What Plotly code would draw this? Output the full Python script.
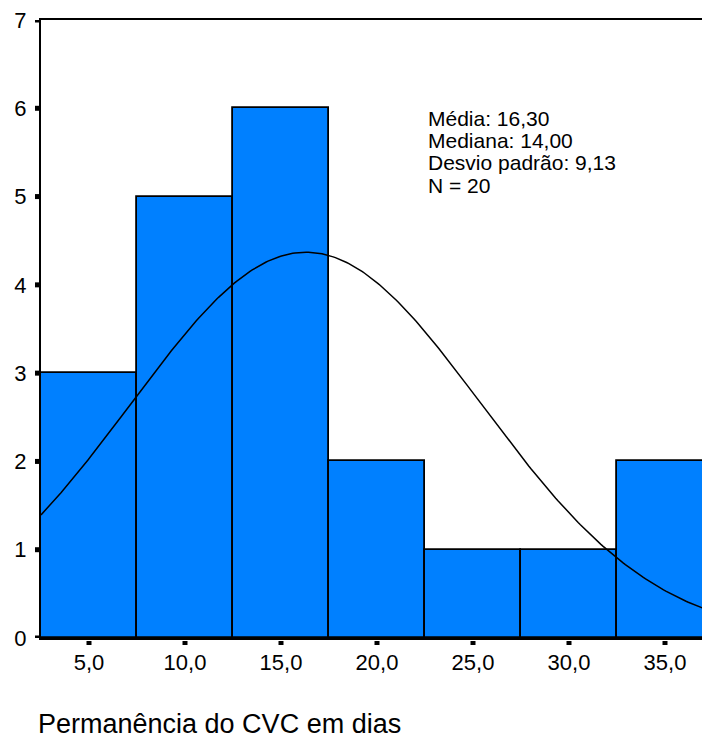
import numpy as np
import plotly.graph_objects as go

# Data
bin_centers = [5, 10, 15, 20, 25, 30, 35]
counts = [3, 5, 6, 2, 1, 1, 2]
bin_width = 5
x_tick_vals = [5, 10, 15, 20, 25, 30, 35]
x_tick_text = ["5,0", "10,0", "15,0", "20,0", "25,0", "30,0", "35,0"]
y_tick_vals = [0, 1, 2, 3, 4, 5, 6, 7]

# Summary statistics shown on the chart
mean_val = 16.30
median_val = 14.00
sd_val = 9.13
n_val = 20

stats_lines = [
    "Média: 16,30",
    "Mediana: 14,00",
    "Desvio padrão: 9,13",
    "N = 20",
]
x_title = "Permanência do CVC em dias"

# Fitted normal curve (as drawn by the original software)
curve_x = np.linspace(2.5, 37.5, 300)
curve_y = n_val * bin_width / (sd_val * np.sqrt(2 * np.pi)) * np.exp(-0.5 * ((curve_x - mean_val) / sd_val) ** 2)

FONT = "Liberation Sans, Arial, sans-serif"
W, H = 702, 740
ML, MR, MT, MB = 41, 0, 20, 102
PW, PH = W - ML - MR, H - MT - MB
X_MIN = 2.5


def px_to_paper_y(ypix):
    return (H - MB - ypix) / PH


def px_to_paper_x(xpix):
    return (xpix - ML) / PW


fig = go.Figure()
fig.add_trace(go.Bar(
    x=bin_centers, y=counts, width=[bin_width] * len(bin_centers),
    marker=dict(color="#0080FF", line=dict(color="black", width=1.8)),
    showlegend=False, hoverinfo="skip",
))
fig.add_trace(go.Scatter(
    x=curve_x, y=curve_y, mode="lines",
    line=dict(color="black", width=1.5),
    showlegend=False, hoverinfo="skip",
))

# Small square tick marks (SPSS style), placed at the tick values
shapes = []
for tv in x_tick_vals:
    shapes.append(dict(
        type="rect", xref="x", xsizemode="pixel", xanchor=tv, x0=-2.5, x1=2.5,
        yref="paper", y0=-3 / PH, y1=-7 / PH,
        fillcolor="black", line=dict(width=0), layer="above",
    ))
for tv in y_tick_vals:
    shapes.append(dict(
        type="rect", xref="paper", x0=-6 / PW, x1=-1.5 / PW,
        yref="y", ysizemode="pixel", yanchor=tv, y0=-2.5, y1=2.5,
        fillcolor="black", line=dict(width=0), layer="above",
    ))

annotations = []
for i, line in enumerate(stats_lines):
    annotations.append(dict(
        text=line, xref="paper", yref="paper",
        x=px_to_paper_x(426), y=px_to_paper_y(118 + 22.5 * i),
        xanchor="left", yanchor="middle", align="left", showarrow=False,
        font=dict(family=FONT, size=21, color="black"),
    ))
annotations.append(dict(
    text=x_title, xref="paper", yref="paper",
    x=px_to_paper_x(36), y=px_to_paper_y(724),
    xanchor="left", yanchor="middle", showarrow=False,
    font=dict(family=FONT, size=27, color="black"),
))

fig.update_layout(
    width=W, height=H,
    margin=dict(l=ML, r=MR, t=MT, b=MB, autoexpand=False),
    plot_bgcolor="white", paper_bgcolor="white",
    bargap=0,
    font=dict(family=FONT, size=22, color="black"),
    xaxis=dict(
        range=[X_MIN, X_MIN + PW / 19.2],
        tickvals=x_tick_vals, ticktext=x_tick_text,
        showgrid=False, zeroline=False, automargin=False,
        showline=True, linecolor="black", linewidth=2, mirror=True,
        ticks="", ticklabelstandoff=4,
        tickfont=dict(family=FONT, size=22, color="black"),
    ),
    yaxis=dict(
        range=[0, 7],
        tickvals=y_tick_vals,
        showgrid=False, zeroline=False, automargin=False,
        showline=True, linecolor="black", linewidth=2, mirror=True,
        ticks="", ticklabelstandoff=8,
        tickfont=dict(family=FONT, size=22, color="black"),
    ),
    shapes=shapes,
    annotations=annotations,
)

fig.write_html("out.html", config={"displayModeBar": False},
               post_script="document.body.style.margin='0';")
